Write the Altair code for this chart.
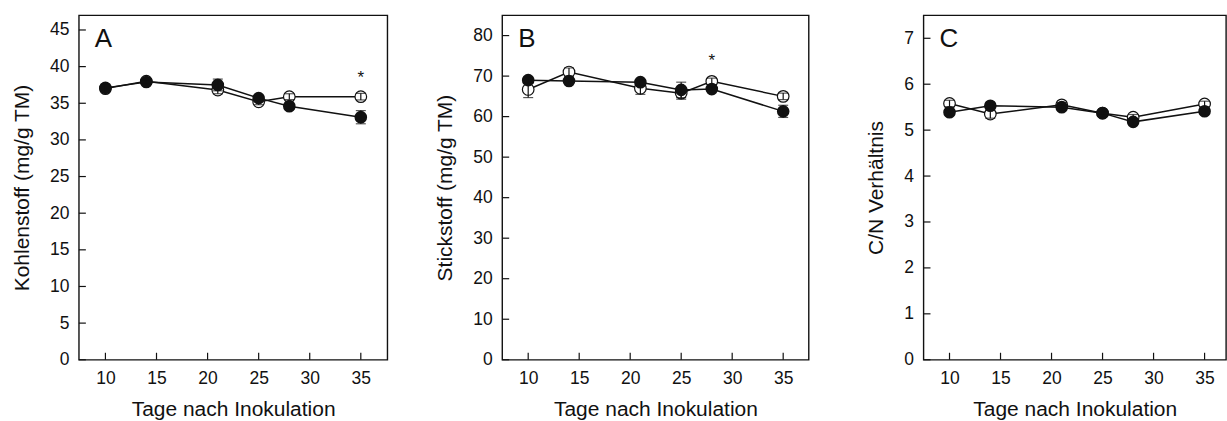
import altair as alt
import pandas as pd

# Probenahmetage (Tage nach Inokulation)
days = [10, 14, 21, 25, 28, 35]
x_ticks = [10, 15, 20, 25, 30, 35]

# A: Kohlenstoff (mg/g TM)
carbon_filled = [37.1, 37.9, 37.5, 35.7, 34.6, 33.1]
carbon_filled_se = [0.5, 0.3, 0.8, 0.4, 0.4, 0.9]
carbon_open = [37.0, 38.0, 36.8, 35.2, 35.9, 35.9]
carbon_open_se = [0.4, 0.3, 0.5, 0.4, 0.4, 0.45]
carbon_ticks = [0, 5, 10, 15, 20, 25, 30, 35, 40, 45]

# B: Stickstoff (mg/g TM)
nitrogen_filled = [69.0, 68.8, 68.5, 66.6, 66.8, 61.3]
nitrogen_filled_se = [0.8, 0.6, 0.6, 1.9, 0.6, 1.5]
nitrogen_open = [66.7, 71.0, 67.0, 65.8, 68.7, 65.0]
nitrogen_open_se = [2.0, 1.0, 1.5, 1.5, 0.8, 0.8]
nitrogen_ticks = [0, 10, 20, 30, 40, 50, 60, 70, 80]

# C: C/N Verhältnis
ratio_filled = [5.39, 5.53, 5.50, 5.37, 5.18, 5.41]
ratio_filled_se = [0.05, 0.05, 0.05, 0.05, 0.06, 0.05]
ratio_open = [5.58, 5.35, 5.55, 5.37, 5.28, 5.57]
ratio_open_se = [0.07, 0.09, 0.05, 0.05, 0.06, 0.06]
ratio_ticks = [0, 1, 2, 3, 4, 5, 6, 7]

FONT = "Liberation Sans"
INK = "#111111"
HEIGHT = 345
TICK_LEN = 7


def frame(values, errors):
    return pd.DataFrame({
        "tag": days,
        "wert": values,
        "lo": [v - e for v, e in zip(values, errors)],
        "hi": [v + e for v, e in zip(values, errors)],
    })


def panel(letter, filled, filled_se, open_, open_se, y_ticks, y_domain,
          y_title, x_domain, width, star=None):
    xs = alt.Scale(domain=x_domain, nice=False, zero=False)
    ys = alt.Scale(domain=y_domain, nice=False, zero=False)
    x_axis = alt.Axis(values=x_ticks, title="Tage nach Inokulation",
                      labelPadding=10, titlePadding=11)
    y_axis = alt.Axis(values=y_ticks, title=y_title, format="d",
                      labelPadding=10, titlePadding=17)

    def X(field):
        return alt.X(f"{field}:Q", scale=xs, axis=x_axis)

    def Y(field):
        return alt.Y(f"{field}:Q", scale=ys, axis=y_axis)

    d_filled = frame(filled, filled_se)
    d_open = frame(open_, open_se)

    def line(df):
        return alt.Chart(df).mark_line(color=INK, strokeWidth=1.5).encode(
            x=X("tag"), y=Y("wert"))

    def errbars(df):
        rule = alt.Chart(df).mark_rule(color=INK, strokeWidth=1.2).encode(
            x=X("tag"), y=Y("lo"), y2="hi")
        cap_lo = alt.Chart(df).mark_tick(
            color=INK, orient="horizontal", size=10, thickness=1.2
        ).encode(x=X("tag"), y=Y("lo"))
        cap_hi = alt.Chart(df).mark_tick(
            color=INK, orient="horizontal", size=10, thickness=1.2
        ).encode(x=X("tag"), y=Y("hi"))
        return [rule, cap_lo, cap_hi]

    open_pts = alt.Chart(d_open).mark_point(
        shape="circle", filled=False, fill="white", fillOpacity=1,
        stroke=INK, strokeWidth=1.2, opacity=1, size=135
    ).encode(x=X("tag"), y=Y("wert"))
    filled_pts = alt.Chart(d_filled).mark_point(
        shape="circle", filled=True, color=INK, opacity=1, size=160
    ).encode(x=X("tag"), y=Y("wert"))

    # inward tick marks on the left and bottom frame edges
    y_tick_marks = alt.Chart(pd.DataFrame({"v": y_ticks})).mark_rule(
        color=INK, strokeWidth=1.2
    ).encode(y=Y("v"), x=alt.value(0), x2=alt.value(TICK_LEN))
    x_tick_marks = alt.Chart(pd.DataFrame({"v": x_ticks})).mark_rule(
        color=INK, strokeWidth=1.2
    ).encode(x=X("v"), y=alt.value(HEIGHT), y2=alt.value(HEIGHT - TICK_LEN))

    label = alt.Chart(pd.DataFrame({"t": [letter]})).mark_text(
        font=FONT, fontSize=26, align="left", baseline="alphabetic", color=INK
    ).encode(text="t:N", x=alt.value(16), y=alt.value(32))

    layers = [line(d_open), line(d_filled), open_pts] + errbars(d_open) + \
        [filled_pts] + errbars(d_filled) + [y_tick_marks, x_tick_marks, label]

    if star is not None:
        star_df = pd.DataFrame({"tag": [star[0]], "wert": [star[1]], "s": ["*"]})
        layers.append(alt.Chart(star_df).mark_text(
            font=FONT, fontSize=17, baseline="middle", dy=5, color=INK
        ).encode(x=X("tag"), y=Y("wert"), text="s:N"))

    return alt.layer(*layers).properties(width=width, height=HEIGHT)


panel_a = panel("A", carbon_filled, carbon_filled_se, carbon_open, carbon_open_se,
                carbon_ticks, [0, 47], "Kohlenstoff (mg/g TM)", [7.4, 37.6], 309,
                star=(35, 39.1))
panel_b = panel("B", nitrogen_filled, nitrogen_filled_se, nitrogen_open, nitrogen_open_se,
                nitrogen_ticks, [0, 85], "Stickstoff (mg/g TM)", [7.45, 37.5], 307,
                star=(28, 74.9))
panel_c = panel("C", ratio_filled, ratio_filled_se, ratio_open, ratio_open_se,
                ratio_ticks, [0, 7.5], "C/N Verhältnis", [7.45, 37.1], 303)

chart = alt.hconcat(panel_a, panel_b, panel_c, spacing=115, bounds="flush").properties(
    padding={"left": 10, "top": 14, "right": 0, "bottom": 0},
    background="white",
).configure_view(
    stroke=INK, strokeWidth=1.4, fill="white"
).configure_axis(
    ticks=False, domain=False, grid=False,
    labelFont=FONT, labelFontSize=17.5, labelColor=INK,
    titleFont=FONT, titleFontSize=21, titleFontWeight="normal", titleColor=INK,
)

chart.save("out.html", embed_options={"renderer": "svg", "actions": False})
